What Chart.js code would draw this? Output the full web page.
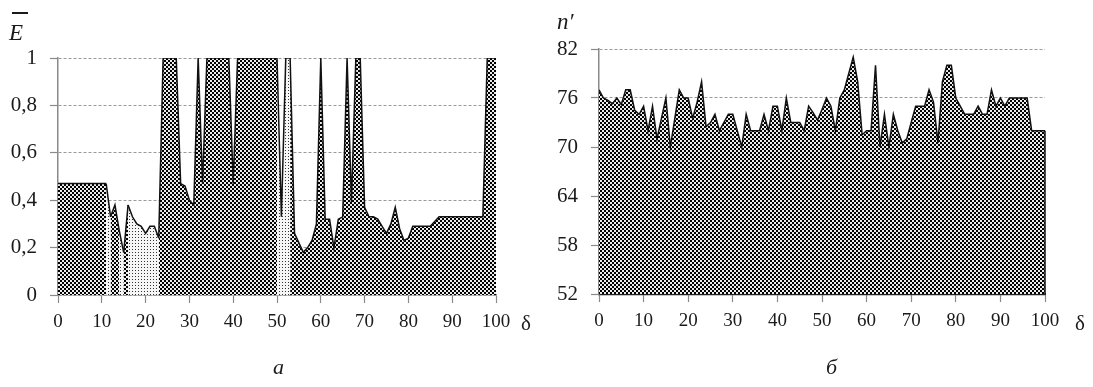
<!DOCTYPE html>
<html><head><meta charset="utf-8">
<script src="https://cdn.jsdelivr.net/npm/chart.js"></script>
<style>
html,body{margin:0;padding:0;background:#fff;width:1093px;height:387px;overflow:hidden;}
canvas{position:absolute;top:0}
#cA{left:0}
#cB{left:546px}
.t{position:absolute;font-family:"Liberation Serif","Times New Roman",serif;color:#1a1a1a;white-space:nowrap;line-height:1}
.bar{position:absolute;background:#1a1a1a}
</style></head><body>
<canvas id="cA" width="546" height="387"></canvas>
<canvas id="cB" width="547" height="387"></canvas>
<div class="bar" style="left:12px;top:12px;width:16px;height:2px"></div>
<div class="t" style="left:9px;top:21px;font-size:23px;font-style:italic">E</div>
<div class="t" style="left:557px;top:10px;font-size:23px;font-style:italic">n′</div>
<div class="t" style="left:521px;top:313px;font-size:21px">δ</div>
<div class="t" style="left:1075px;top:313px;font-size:21px">δ</div>
<div class="t" style="left:273px;top:356px;font-size:22px;font-style:italic">а</div>
<div class="t" style="left:826px;top:356px;font-size:22px;font-style:italic">б</div>
<script>
// categories (δ)
const delta = Array.from({length: 101}, (_, i) => i);
// series a: mean E
const eValues = [
  0.47,0.47,0.47,0.47,0.47,0.47,0.47,0.47,0.47,0.47,0.47,0.47,
  0.33,0.38,0.27,0.18,0.38,0.33,0.30,0.29,0.26,0.29,0.29,0.24,
  1,1,1,1,
  0.47,0.46,0.40,0.38,1,0.47,1,1,1,1,1,1,0.47,
  1,1,1,1,1,1,1,1,1,1,
  0.33,1,1,0.26,0.22,0.18,0.20,0.23,0.30,1,
  0.32,0.32,0.20,0.32,0.33,1,0.39,1,1,0.37,
  0.33,0.33,0.32,0.29,0.26,0.30,0.37,0.28,0.23,0.24,
  0.29,0.29,0.29,0.29,0.29,0.31,
  0.33,0.33,0.33,0.33,0.33,0.33,0.33,0.33,0.33,0.33,0.33,
  1,1,1
];
// segments (start index) drawn with the light pattern in chart a
const lightSegments = [11,14,16,17,18,19,20,21,22,50,51,52];
// series б: n'
const nValues = [
  77,76,75.7,75.3,76,75.2,77,77,74.5,74,75,72,75,71,73.5,76,70,73.5,77,76,
  76,73.5,75.5,78,72.5,73,74,72,73,74,74,72,70,74,72,72,72,74,72,75,
  75,72,76,73,73,73,72,75,74.2,73.3,74.6,76,75,72,76,77,79,81,78,71.5,
  72,72,80,70,74,70,74,72,70.5,71,73,75,75,75,77,75.5,70.5,78,80,80,
  76,75,74,74,74,75,74,74,77,75,76,75,76,76,76,76,76,72,72,72,72
];
const eTicks = [0,0.2,0.4,0.6,0.8,1];
const nTicks = [52,58,64,70,76,82];
const xTicks = [0,10,20,30,40,50,60,70,80,90,100];

function makePattern(ctx, size, cell, cells, fg, bg){
  const c = document.createElement('canvas');
  c.width = size; c.height = size;
  const g = c.getContext('2d');
  g.fillStyle = bg; g.fillRect(0,0,size,size);
  g.fillStyle = fg;
  cells.forEach(([x,y]) => g.fillRect(x*cell,y*cell,cell,cell));
  return ctx.createPattern(c, 'repeat');
}
const ctxA = document.getElementById('cA').getContext('2d');
const ctxB = document.getElementById('cB').getContext('2d');
const darkA = makePattern(ctxA, 4, 2, [[0,0],[1,1]], '#000', '#ececec');
const lightA = makePattern(ctxA, 3, 1, [[0,0]], '#333', '#f6f6f6');
const darkB = makePattern(ctxB, 4, 2, [[0,0],[1,1]], '#000', '#ececec');

const FONT = '"Liberation Serif","Times New Roman",serif';
const TXT = '#1a1a1a';
const AX = '#8a8a8a';

function xScale(borderColor, borderWidth, plotBottom){
  return {
    type: 'linear', min: 0, max: 100,
    afterBuildTicks: s => { s.ticks = xTicks.map(v => ({value: v})); },
    afterFit: s => { s.height = 387 - plotBottom; },
    ticks: { color: TXT, font: {family: FONT, size: 19}, padding: 8, maxRotation: 0, autoSkip: false,
             callback: v => String(v) },
    grid: { drawOnChartArea: false, drawTicks: true, tickLength: 8, tickColor: AX, tickWidth: 1.2 },
    border: { color: borderColor, width: borderWidth }
  };
}
function yScale(ticks, fmt, width){
  return {
    type: 'linear',
    min: ticks[0], max: ticks[ticks.length-1],
    afterBuildTicks: s => { s.ticks = ticks.map(v => ({value: v})); },
    afterFit: s => { s.width = width; },
    ticks: { color: TXT, font: {family: FONT, size: 21}, padding: 13, callback: fmt },
    grid: { color: '#9a9a9a', lineWidth: 1, tickLength: 8, tickColor: AX, tickWidth: 1.2 },
    border: { color: AX, width: 1.5, dash: [3, 2] }
  };
}

const edgePlugin = {
  id: 'edge',
  afterDatasetsDraw(chart, args, opts){
    if (!opts || !opts.on) return;
    const pts = chart.getDatasetMeta(0).data;
    const last = pts[pts.length-1];
    const c = chart.ctx;
    c.save();
    c.strokeStyle = '#111'; c.lineWidth = 1.5;
    c.beginPath(); c.moveTo(last.x, last.y); c.lineTo(last.x, chart.chartArea.bottom); c.stroke();
    c.restore();
  }
};

// Chart a
new Chart(ctxA, {
  type: 'line',
  data: { datasets: [{
    data: delta.map((d, i) => ({x: d, y: eValues[i]})),
    borderColor: '#111', borderWidth: 1.5, pointRadius: 0, tension: 0,
    fill: 'origin', backgroundColor: darkA,
    segment: { backgroundColor: c => lightSegments.includes(c.p0DataIndex) ? lightA : darkA }
  }]},
  options: {
    responsive: false, animation: false, devicePixelRatio: 1,
    layout: { padding: { left: 0, top: 58, right: 50, bottom: 0 } },
    plugins: { legend: {display: false}, tooltip: {enabled: false}, edge: {on: false} },
    scales: {
      x: xScale(AX, 1.5, 295),
      y: yScale(eTicks, v => (v === 0 || v === 1) ? String(v) : v.toFixed(1).replace('.', ','), 58)
    }
  },
  plugins: [edgePlugin]
});

// Chart б
new Chart(ctxB, {
  type: 'line',
  data: { datasets: [{
    data: delta.map((d, i) => ({x: d, y: nValues[i]})),
    borderColor: '#111', borderWidth: 1.5, pointRadius: 0, tension: 0,
    fill: 'start', backgroundColor: darkB
  }]},
  options: {
    responsive: false, animation: false, devicePixelRatio: 1,
    layout: { padding: { left: 0, top: 49, right: 48, bottom: 0 } },
    plugins: { legend: {display: false}, tooltip: {enabled: false}, edge: {on: true} },
    scales: {
      x: xScale('#222', 2.2, 294),
      y: yScale(nTicks, v => String(v), 53)
    }
  },
  plugins: [edgePlugin]
});
</script>
</body></html>
